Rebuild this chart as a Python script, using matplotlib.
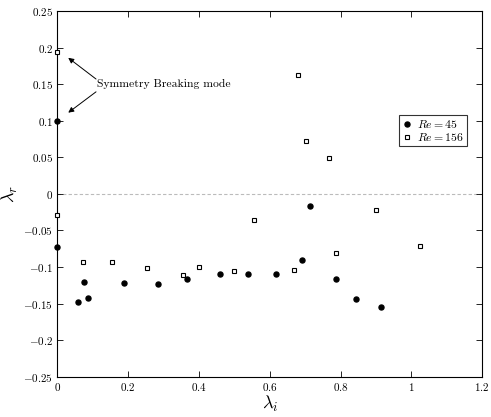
import matplotlib
matplotlib.use("Agg")
import matplotlib.pyplot as plt

plt.rcParams['font.family'] = 'serif'
plt.rcParams['font.serif'] = ['cmr10']
plt.rcParams['mathtext.fontset'] = 'cm'
plt.rcParams['axes.formatter.use_mathtext'] = True

re45_x = [0.0, 0.0, 0.057, 0.076, 0.087, 0.188, 0.284, 0.367, 0.460, 0.539, 0.617, 0.691, 0.713, 0.788, 0.843, 0.914]
re45_y = [0.100, -0.072, -0.148, -0.120, -0.142, -0.1215, -0.123, -0.116, -0.109, -0.110, -0.110, -0.091, -0.017, -0.116, -0.144, -0.154]

re156_x = [0.0, 0.0, 0.071, 0.153, 0.252, 0.355, 0.399, 0.498, 0.556, 0.668, 0.679, 0.702, 0.767, 0.788, 0.899, 1.025]
re156_y = [0.194, -0.029, -0.093, -0.093, -0.102, -0.1105, -0.100, -0.106, -0.036, -0.1035, 0.162, 0.0725, 0.0485, -0.081, -0.022, -0.071]

xticks = [0, 0.2, 0.4, 0.6, 0.8, 1, 1.2]
xtick_labels = ['0', '0.2', '0.4', '0.6', '0.8', '1', '1.2']
yticks = [-0.25, -0.2, -0.15, -0.1, -0.05, 0, 0.05, 0.1, 0.15, 0.2, 0.25]
ytick_labels = ['$-0.25$', '$-0.2$', '$-0.15$', '$-0.1$', '$-0.05$', '$0$', '$0.05$', '$0.1$', '$0.15$', '$0.2$', '$0.25$']

fig = plt.figure(figsize=(4.91, 4.17), dpi=100)
ax = fig.add_axes([0.117, 0.0966, 0.865, 0.877])

ax.axhline(0, color='#bbbbbb', linestyle='--', linewidth=0.8, dashes=(3, 2), zorder=1)

ax.plot(re45_x, re45_y, 'o', color='black', markersize=3.6, linestyle='none', label='$Re = 45$', clip_on=False, zorder=3)
ax.plot(re156_x, re156_y, 's', markerfacecolor='white', markeredgecolor='black', markeredgewidth=0.8,
        markersize=2.7, linestyle='none', label='$Re = 156$', clip_on=False, zorder=3)

ax.set_xlim(0, 1.2)
ax.set_ylim(-0.25, 0.25)
ax.set_xticks(xticks)
ax.set_xticklabels(['$%s$' % t for t in xtick_labels])
ax.set_yticks(yticks)
ax.set_yticklabels(ytick_labels)
ax.tick_params(direction='in', top=True, right=True, labelsize=8, length=4, width=0.6, pad=3)
for s in ax.spines.values():
    s.set_linewidth(0.8)

ax.set_xlabel(r'$\lambda_i$', fontsize=13)
ax.set_ylabel(r'$\lambda_r$', fontsize=13)
ax.xaxis.set_label_coords(0.5, -0.046)
ax.yaxis.set_label_coords(-0.088, 0.5)

ax.text(0.112, 0.150, 'Symmetry Breaking mode', fontsize=8.4, va='center', ha='left')
ax.annotate('', xy=(0.0305, 0.186), xytext=(0.109, 0.157),
            arrowprops=dict(arrowstyle='-|>', color='black', lw=0.7, mutation_scale=8, shrinkA=0, shrinkB=0))
ax.annotate('', xy=(0.0305, 0.111), xytext=(0.109, 0.1395),
            arrowprops=dict(arrowstyle='-|>', color='black', lw=0.7, mutation_scale=8, shrinkA=0, shrinkB=0))

leg = ax.legend(loc='upper left', bbox_to_anchor=(0.804, 0.715), fontsize=8.5, frameon=True, fancybox=False,
                edgecolor='black', handlelength=0.8, handletextpad=0.5, borderpad=0.25, labelspacing=0.1,
                borderaxespad=0)
leg.get_frame().set_linewidth(0.8)

fig.savefig('out.png', dpi=100)
